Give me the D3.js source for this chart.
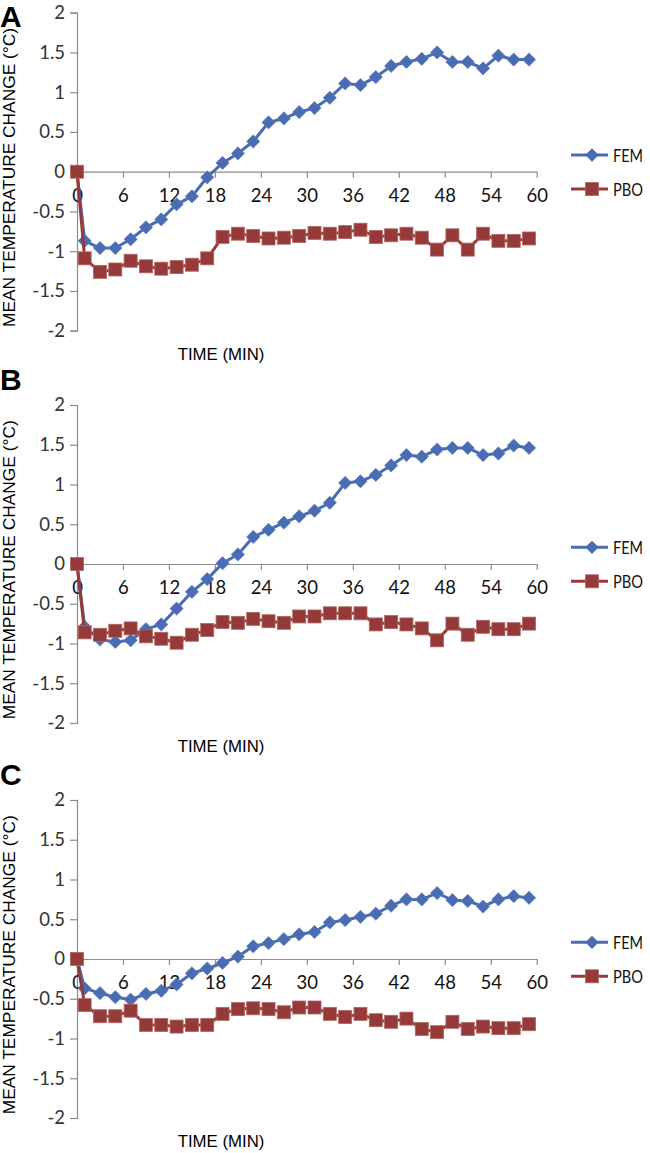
<!DOCTYPE html>
<html>
<head>
<meta charset="utf-8">
<script src="https://cdn.jsdelivr.net/npm/d3@7"></script>
<style>
html,body{margin:0;padding:0;background:#fff;}
svg{display:block;}
</style>
</head>
<body>
<svg id="chart" width="650" height="1153"></svg>
<script>
const times = [0,1,3,5,7,9,11,13,15,17,19,21,23,25,27,29,31,33,35,37,39,41,43,45,47,49,51,53,55,57,59];
const xTicks = [0,6,12,18,24,30,36,42,48,54,60];
const yTicks = [-2,-1.5,-1,-0.5,0,0.5,1,1.5,2];
const seriesNames = ["FEM","PBO"];
const panelLabels = ["A","B","C"];

const femA = [0,-0.87,-0.96,-0.96,-0.85,-0.70,-0.60,-0.41,-0.31,-0.07,0.11,0.23,0.38,0.62,0.67,0.75,0.80,0.93,1.11,1.09,1.19,1.33,1.38,1.42,1.50,1.38,1.38,1.30,1.46,1.41,1.41];
const pboA = [0,-1.09,-1.26,-1.23,-1.12,-1.19,-1.22,-1.20,-1.17,-1.09,-0.82,-0.78,-0.81,-0.84,-0.83,-0.81,-0.77,-0.78,-0.76,-0.73,-0.82,-0.80,-0.78,-0.83,-0.98,-0.80,-0.98,-0.78,-0.87,-0.87,-0.84];
const femB = [0,-0.79,-0.95,-0.98,-0.96,-0.82,-0.76,-0.56,-0.35,-0.19,0.01,0.12,0.34,0.43,0.52,0.60,0.67,0.77,1.02,1.04,1.12,1.24,1.37,1.35,1.44,1.46,1.46,1.37,1.39,1.49,1.46];
const pboB = [0,-0.86,-0.89,-0.84,-0.81,-0.91,-0.94,-0.99,-0.89,-0.83,-0.73,-0.74,-0.69,-0.72,-0.74,-0.66,-0.66,-0.62,-0.62,-0.62,-0.76,-0.73,-0.76,-0.81,-0.96,-0.75,-0.89,-0.79,-0.82,-0.82,-0.75];
const femC = [0,-0.37,-0.43,-0.48,-0.51,-0.44,-0.40,-0.32,-0.18,-0.12,-0.05,0.03,0.16,0.20,0.25,0.31,0.34,0.46,0.49,0.53,0.57,0.67,0.75,0.75,0.83,0.74,0.73,0.66,0.75,0.79,0.77];
const pboC = [0,-0.58,-0.72,-0.72,-0.65,-0.83,-0.83,-0.85,-0.83,-0.83,-0.69,-0.63,-0.62,-0.63,-0.67,-0.61,-0.61,-0.69,-0.73,-0.69,-0.77,-0.79,-0.75,-0.88,-0.92,-0.79,-0.88,-0.85,-0.87,-0.87,-0.82];

const panels = [
  {label: panelLabels[0], fem: femA, pbo: pboA, zero: 171.7, letterY: 27},
  {label: panelLabels[1], fem: femB, pbo: pboB, zero: 564, letterY: 390},
  {label: panelLabels[2], fem: femC, pbo: pboC, zero: 959, letterY: 785}
];

const blue = "#4A6CB3";
const red = "#953A38";
const axisColor = "#8c8c8c";
const tickFont = "Lato, 'Open Sans', sans-serif";
const titleFont = "'Liberation Sans', Arial, sans-serif";
const fmt = d => String(d);

const svg = d3.select("#chart");
const x = d3.scaleLinear().domain([0,60]).range([77,536.7]);

panels.forEach(p => {
  const y = d3.scaleLinear().domain([-2,2]).range([p.zero + 159, p.zero - 159]);
  const g = svg.append("g");

  g.append("text").attr("x", 0).attr("y", p.letterY)
    .attr("font-family", titleFont).attr("font-weight", "bold")
    .attr("font-size", 30).attr("fill", "#000").text(p.label);

  const yAxis = g.append("g").attr("transform", `translate(${x(0)},0)`)
    .call(d3.axisLeft(y).tickValues(yTicks).tickSize(7).tickPadding(5).tickFormat(fmt));
  yAxis.select(".domain").attr("stroke", axisColor).attr("stroke-width", 1.2);
  yAxis.selectAll(".tick line").attr("stroke", axisColor).attr("stroke-width", 1.2);
  yAxis.selectAll(".tick text").attr("font-family", tickFont).attr("font-size", 18.5).attr("fill", "#333");

  const xAxis = g.append("g").attr("transform", `translate(0,${y(0)})`)
    .call(d3.axisBottom(x).tickValues(xTicks).tickSize(6).tickSizeOuter(0).tickPadding(11).tickFormat(fmt));
  xAxis.select(".domain").attr("stroke", axisColor).attr("stroke-width", 1.2);
  xAxis.selectAll(".tick line").attr("stroke", axisColor).attr("stroke-width", 1.2);
  xAxis.selectAll(".tick text").attr("font-family", tickFont).attr("font-size", 18.5).attr("fill", "#111");

  g.append("text")
    .attr("transform", `translate(15,${p.zero + 5.8}) rotate(-90)`)
    .attr("text-anchor", "middle").attr("font-family", titleFont)
    .attr("font-size", 16.5).attr("fill", "#000")
    .attr("textLength", 299).attr("lengthAdjust", "spacingAndGlyphs")
    .text("MEAN TEMPERATURE CHANGE (°C)");
  g.append("text").attr("x", 221).attr("y", p.zero + 188)
    .attr("text-anchor", "middle").attr("font-family", titleFont)
    .attr("font-size", 16.8).attr("fill", "#000").text("TIME (MIN)");

  const line = d3.line().x((d,i) => x(times[i])).y(d => y(d));

  g.append("path").datum(p.fem).attr("d", line).attr("fill", "none")
    .attr("stroke", blue).attr("stroke-width", 3).attr("stroke-linejoin", "round");
  g.selectAll(".dia").data(p.fem).enter().append("path")
    .attr("d", d3.symbol().type(d3.symbolSquare).size(88))
    .attr("transform", (d,i) => `translate(${x(times[i])},${y(d)}) rotate(45)`)
    .attr("fill", blue).attr("stroke", "#5a7cc0").attr("stroke-width", 0.6);

  g.append("path").datum(p.pbo).attr("d", line).attr("fill", "none")
    .attr("stroke", red).attr("stroke-width", 3).attr("stroke-linejoin", "round");
  g.selectAll(".sq").data(p.pbo).enter().append("rect")
    .attr("x", (d,i) => x(times[i]) - 6.5).attr("y", d => y(d) - 6.5)
    .attr("width", 13).attr("height", 13)
    .attr("fill", red).attr("stroke", "#b06664").attr("stroke-width", 0.8);

  const legY = [p.zero - 16.7, p.zero + 17.3];
  const leg = g.append("g");
  seriesNames.forEach((name, k) => {
    const col = k === 0 ? blue : red;
    leg.append("line").attr("x1", 571).attr("x2", 608).attr("y1", legY[k]).attr("y2", legY[k])
      .attr("stroke", col).attr("stroke-width", 3);
    if (k === 0) {
      leg.append("path").attr("d", d3.symbol().type(d3.symbolSquare).size(88))
        .attr("transform", `translate(592,${legY[k]}) rotate(45)`).attr("fill", col);
    } else {
      leg.append("rect").attr("x", 592 - 6.5).attr("y", legY[k] - 6.5)
        .attr("width", 13).attr("height", 13).attr("fill", col)
        .attr("stroke", "#b06664").attr("stroke-width", 0.8);
    }
    leg.append("text").attr("x", 613).attr("y", legY[k] + 6.5)
      .attr("font-family", tickFont).attr("font-size", 17).attr("fill", "#111")
      .attr("textLength", 30).attr("lengthAdjust", "spacingAndGlyphs").text(name);
  });
});
</script>
</body>
</html>
